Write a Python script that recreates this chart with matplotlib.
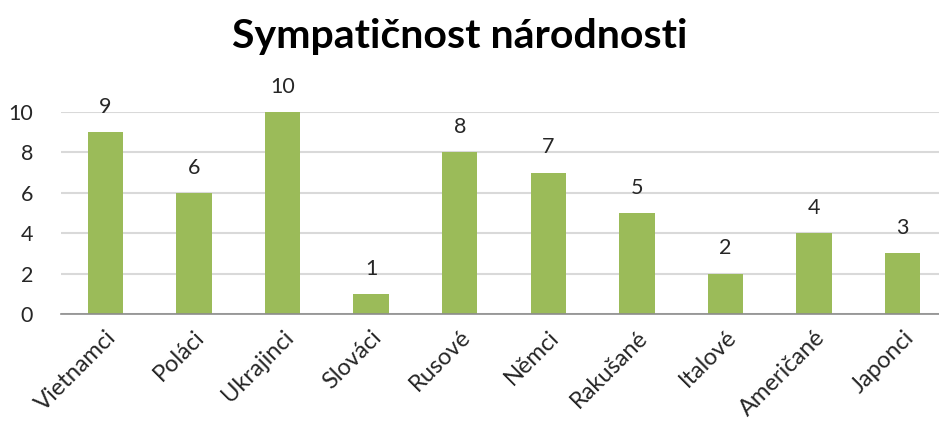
import matplotlib
matplotlib.use("Agg")
import matplotlib.pyplot as plt

# data
narodnosti = ["Vietnamci", "Poláci", "Ukrajinci", "Slováci", "Rusové",
              "Němci", "Rakušané", "Italové", "Američané", "Japonci"]
body = [9, 6, 10, 1, 8, 7, 5, 2, 4, 3]
y_ticks = [0, 2, 4, 6, 8, 10]

plt.rcParams['font.family'] = ['Lato', 'DejaVu Sans']

fig = plt.figure(figsize=(9.39, 4.28), dpi=100)
ax = fig.add_axes([61 / 939, 114 / 428, 886 / 939, 202 / 428])

x = range(len(narodnosti))
bars = ax.bar(x, body, width=0.4, color="#9BBB59", zorder=3)

for rect, v in zip(bars, body):
    ax.annotate(str(v), (rect.get_x() + rect.get_width() / 2, v),
                xytext=(0, 11), textcoords="offset points",
                ha="center", va="bottom", fontsize=15.5, color="#262626")

ax.set_xlim(-0.5, len(narodnosti) - 0.5)
ax.set_ylim(0, 10)
ax.set_yticks(y_ticks)
ax.set_yticklabels([str(t) for t in y_ticks], fontsize=15.5, color="#262626")
ax.set_xticks(list(x))
ax.set_xticklabels(narodnosti, rotation=45, ha="right", rotation_mode="anchor",
                   fontsize=17, color="#262626")
ax.tick_params(axis="y", length=0, pad=20)
ax.tick_params(axis="x", length=0, pad=9)

ax.grid(axis="y", color="#D9D9D9", linewidth=1.5, zorder=0)
for s in ["top", "right", "left"]:
    ax.spines[s].set_visible(False)
ax.spines["bottom"].set_color("#8C8C8C")
ax.spines["bottom"].set_linewidth(1.2)
ax.spines["bottom"].set_zorder(4)

fig.text(0.49, 0.915, "Sympatičnost národnosti", ha="center", va="center",
         fontsize=29.5, fontweight="bold", color="#000000")

fig.savefig("out.png", dpi=100)
